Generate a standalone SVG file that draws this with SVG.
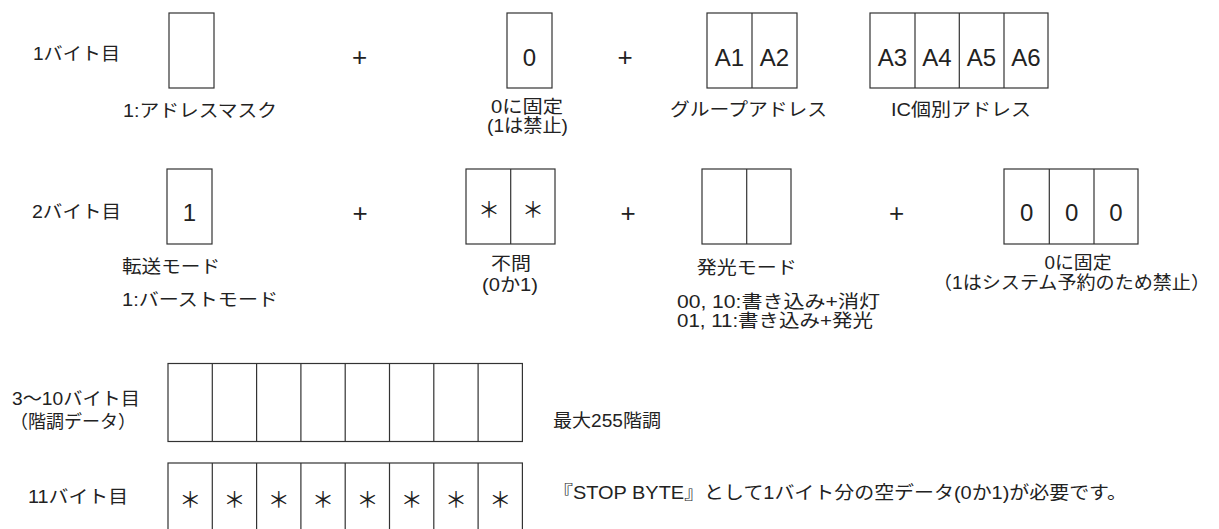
<svg xmlns="http://www.w3.org/2000/svg" width="1219" height="529" viewBox="0 0 1219 529">
<style>
.box{fill:#fff;stroke:#333;stroke-width:1.2}
.ln{fill:none;stroke:#333;stroke-width:1.2}
.t{font-family:"Liberation Sans","Noto Sans CJK JP",sans-serif;font-size:18px;fill:#222}
.m{text-anchor:middle}
.v{font-family:"Liberation Sans","Noto Sans CJK JP",sans-serif;font-size:24px;fill:#222;text-anchor:middle}
.p{font-family:"Liberation Sans",sans-serif;font-size:26px;fill:#222;text-anchor:middle}
.a{font-family:"Noto Sans CJK JP",sans-serif;font-size:22px;fill:#222;text-anchor:middle}
</style>
<rect width="1219" height="529" fill="#fff"/>

<!-- Row 1 -->
<g id="row1-label"><text class="t" x="33" y="60" textLength="87" lengthAdjust="spacingAndGlyphs">1バイト目</text></g>
<g id="b1-mask">
<rect class="box" x="169" y="13" width="45" height="75"/>
<text class="t m" x="200" y="117" textLength="154" lengthAdjust="spacingAndGlyphs">1:アドレスマスク</text>
</g>
<g id="b1-plus1"><text class="p" x="359.5" y="66">+</text></g>
<g id="b1-fixed">
<rect class="box" x="507" y="13" width="45" height="75"/>
<text class="v" x="529.5" y="59" dy="6.5">0</text>
<text class="t m" x="527" y="113" textLength="72" lengthAdjust="spacingAndGlyphs">0に固定</text>
<text class="t m" x="527.5" y="132" textLength="81" lengthAdjust="spacingAndGlyphs">(1は禁止)</text>
</g>
<g id="b1-plus2"><text class="p" x="625" y="66">+</text></g>
<g id="b1-group">
<rect class="box" x="707" y="13" width="90" height="75"/>
<line class="ln" x1="752" y1="13" x2="752" y2="88"/>
<text class="v" x="729.5" y="65.5">A1</text>
<text class="v" x="774.5" y="65.5">A2</text>
<text class="t m" x="748.5" y="116" textLength="157" lengthAdjust="spacingAndGlyphs">グループアドレス</text>
</g>
<g id="b1-ic">
<rect class="box" x="870" y="13" width="178" height="75"/>
<line class="ln" x1="915" y1="13" x2="915" y2="88"/>
<line class="ln" x1="959.3" y1="13" x2="959.3" y2="88"/>
<line class="ln" x1="1004" y1="13" x2="1004" y2="88"/>
<text class="v" x="892.5" y="65.5">A3</text>
<text class="v" x="937" y="65.5">A4</text>
<text class="v" x="981.5" y="65.5">A5</text>
<text class="v" x="1026" y="65.5">A6</text>
<text class="t m" x="961" y="116" textLength="140" lengthAdjust="spacingAndGlyphs">IC個別アドレス</text>
</g>

<!-- Row 2 -->
<g id="row2-label"><text class="t" x="32" y="218" textLength="89" lengthAdjust="spacingAndGlyphs">2バイト目</text></g>
<g id="b2-transfer">
<rect class="box" x="167" y="169" width="45" height="75"/>
<text class="v" x="189.5" y="220.5">1</text>
<text class="t" x="122" y="273" textLength="98" lengthAdjust="spacingAndGlyphs">転送モード</text>
<text class="t" x="122" y="306" textLength="156" lengthAdjust="spacingAndGlyphs">1:バーストモード</text>
</g>
<g id="b2-plus1"><text class="p" x="360" y="222">+</text></g>
<g id="b2-dontcare">
<rect class="box" x="466" y="169" width="89" height="75"/>
<line class="ln" x1="510.7" y1="169" x2="510.7" y2="244"/>
<text class="a" x="489" y="217">＊</text>
<text class="a" x="533" y="217">＊</text>
<text class="t m" x="511" y="270" textLength="40" lengthAdjust="spacingAndGlyphs">不問</text>
<text class="t m" x="510" y="291" textLength="56" lengthAdjust="spacingAndGlyphs">(0か1)</text>
</g>
<g id="b2-plus2"><text class="p" x="628" y="222">+</text></g>
<g id="b2-emit">
<rect class="box" x="702" y="169" width="89" height="75"/>
<line class="ln" x1="746.7" y1="169" x2="746.7" y2="244"/>
<text class="t m" x="746.7" y="274" textLength="100" lengthAdjust="spacingAndGlyphs">発光モード</text>
<text class="t" x="677" y="307.5" textLength="203" lengthAdjust="spacingAndGlyphs">00, 10:書き込み+消灯</text>
<text class="t" x="677" y="327" textLength="196" lengthAdjust="spacingAndGlyphs">01, 11:書き込み+発光</text>
</g>
<g id="b2-plus3"><text class="p" x="896.7" y="222">+</text></g>
<g id="b2-fixed">
<rect class="box" x="1004" y="169" width="134" height="75"/>
<line class="ln" x1="1049.3" y1="169" x2="1049.3" y2="244"/>
<line class="ln" x1="1094" y1="169" x2="1094" y2="244"/>
<text class="v" x="1026.7" y="220.5">0</text>
<text class="v" x="1071.7" y="220.5">0</text>
<text class="v" x="1116" y="220.5">0</text>
<text class="t m" x="1078" y="268.5" textLength="67" lengthAdjust="spacingAndGlyphs">0に固定</text>
<text class="t m" x="1071.5" y="289" textLength="277" lengthAdjust="spacingAndGlyphs">（1はシステム予約のため禁止）</text>
</g>

<!-- Row 3 -->
<g id="row3-label">
<text class="t" x="12" y="405" textLength="128" lengthAdjust="spacingAndGlyphs">3〜10バイト目</text>
<text class="t" x="10" y="428">（階調データ）</text>
</g>
<g id="b3-gradation">
<rect class="box" x="168" y="363.5" width="354.4" height="78"/>
<path class="ln" d="M212.3 363.5v78M256.6 363.5v78M300.9 363.5v78M345.2 363.5v78M389.5 363.5v78M433.8 363.5v78M478.1 363.5v78"/>
<text class="t" x="553" y="427" textLength="108" lengthAdjust="spacingAndGlyphs">最大255階調</text>
</g>

<!-- Row 4 -->
<g id="row4-label"><text class="t" x="28" y="503" textLength="100" lengthAdjust="spacingAndGlyphs">11バイト目</text></g>
<g id="b4-stop">
<rect class="box" x="168" y="463" width="354.4" height="90"/>
<path class="ln" d="M212.3 463v90M256.6 463v90M300.9 463v90M345.2 463v90M389.5 463v90M433.8 463v90M478.1 463v90"/>
<text class="a" x="190.2" y="507">＊</text>
<text class="a" x="234.5" y="507">＊</text>
<text class="a" x="278.8" y="507">＊</text>
<text class="a" x="323.1" y="507">＊</text>
<text class="a" x="367.4" y="507">＊</text>
<text class="a" x="411.7" y="507">＊</text>
<text class="a" x="456" y="507">＊</text>
<text class="a" x="500.3" y="507">＊</text>
<text class="t" x="553" y="499" textLength="574" lengthAdjust="spacingAndGlyphs">『STOP BYTE』として1バイト分の空データ(0か1)が必要です。</text>
</g>
</svg>
